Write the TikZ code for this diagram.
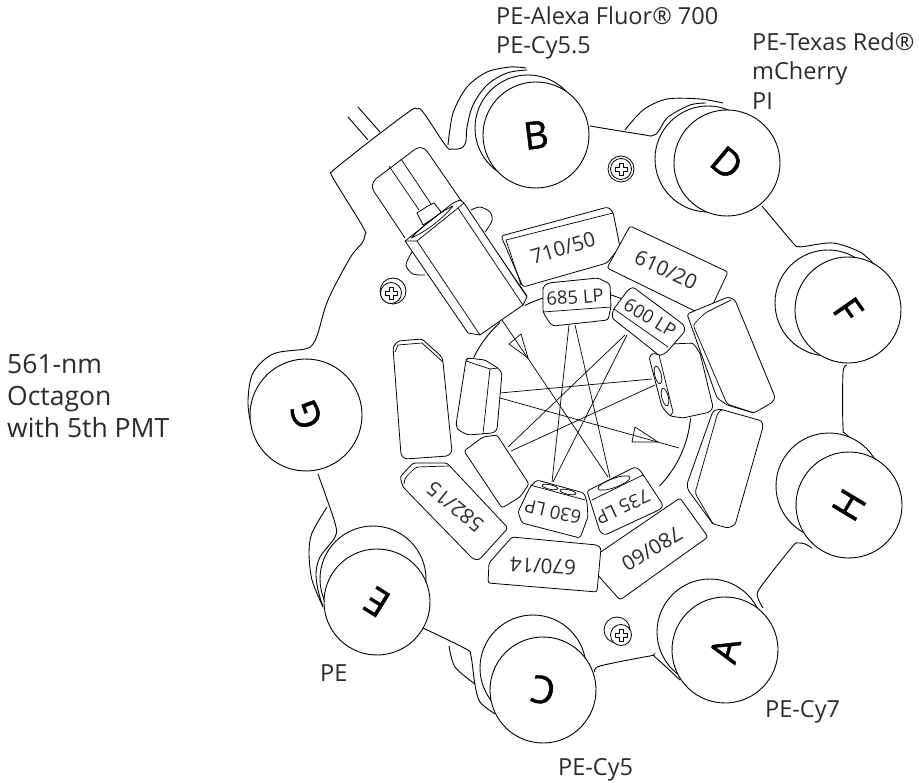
\documentclass[tikz,border=0pt]{standalone}
\usepackage{fontspec}
\setmainfont{Open Sans}
\newfontfamily\detfont[FakeBold=1.2]{Open Sans}
\usepackage{xcolor}
\usetikzlibrary{shapes.geometric,positioning,calc}
\definecolor{inkgray}{HTML}{2B2B2B}

% one mounting screw: outer ring, inner ring, cross
\newcommand{\screwhead}[4]{
  \draw[part] (#1,#2) circle (13);
  \draw[part] (#3,#4) circle (10.5);
  \draw[thinpart, shift={(#3,#4)}] (-2,-6) -- (2,-6) -- (2,-2) -- (6,-2) -- (6,2) -- (2,2) -- (2,6) -- (-2,6) -- (-2,2) -- (-6,2) -- (-6,-2) -- (-2,-2) -- cycle;
}

\begin{document}
\begin{tikzpicture}[x=1pt, y=-1pt,
    part/.style={draw=black, line width=0.8pt, fill=white, line join=round},
    thinpart/.style={draw=black, line width=0.7pt, line join=round},
    holder/.style={draw=black, line width=0.9pt},
    blockpart/.style={part, rounded corners=2.5pt},
    pmtback/.style={circle, draw=black, line width=0.9pt, fill=white, minimum size=106pt, inner sep=0pt},
    pmt/.style={pmtback, font=\detfont\fontsize{38}{38}\selectfont, text=black},
    filterlabel/.style={font=\fontsize{20.5}{20.5}\selectfont, text=inkgray, inner sep=0pt},
    splitlabel/.style={font=\fontsize{18.5}{18.5}\selectfont, text=inkgray, inner sep=0pt},
    dyelabel/.style={font=\fontsize{23.5}{29.5}\selectfont, text=inkgray, align=left, inner sep=0pt, anchor=north west},
    beam/.style={draw=black, line width=0.7pt},
    beamtip/.style={draw=black, line width=0.7pt}]
  \useasboundingbox (0,0) rectangle (919,783);

  % holder outline
  \draw[holder] plot[smooth, tension=.55] coordinates {(250,420) (248,400) (253,373) (273,354) (305,349) (313,344) (318,333) (328,300) (350,258) (362,243) (365,235) (363,227) (333,178) (332,172) (336,168) (370,141) (410,111) (417,109) (423,112) (446,146) (452,149) (458,149) (463,147) (466,141) (467,127) (473,105) (487,85) (507,73) (527,70)};
  \draw[holder] plot[smooth] coordinates {(448,145) (453,113) (467,87) (487,72) (510,67) (526,68)};
  \draw[holder] plot[smooth, tension=.5] coordinates {(590,126) (620,131) (645,135) (651,136) (656,134) (660,129) (668,117) (690,105) (706,103)};
  \draw[holder] plot[smooth] coordinates {(625,130) (643,110) (667,99) (700,99) (723,103)};
  \draw[holder] plot[smooth, tension=.5] coordinates {(762,206) (793,243) (798,246.5) (804,246.5) (833,243) (860,252) (875,265)};
  \draw[holder] plot[smooth, tension=.5] coordinates {(847,365) (843,373) (843,427) (847,435) (880,463)};
  \draw[holder] plot[smooth, tension=.5] coordinates {(812,548) (805,544) (798,543) (792,547) (760,588) (758,598) (763,608)};
  \draw[holder] plot[smooth, tension=.5] coordinates {(595,672) (600,666) (650,656) (655,657) (680,680)};
  \draw[holder] plot[smooth, tension=.5] coordinates {(423,628) (466,649) (471,656) (475,685) (480,702) (495,714)};
  \draw[holder] plot[smooth] coordinates {(449,646) (455,667) (475,684)};
  \draw[holder] plot[smooth, tension=.5] coordinates {(318,474) (335,523) (335,537) (320,557) (316,573) (318,590) (323,607)};
  \draw[holder] plot[smooth] coordinates {(327,507) (312,533) (309,553) (312,580) (323,607)};

  % cable
  \draw[holder] (348,117) -- (368,140);
  \draw[holder] (358,107) -- (380,132);

  % back of the detectors
  \node[pmtback] (backB) at (528,128) {};
  \node[pmtback] (backD) at (708,159) {};
  \node[pmtback] (backF) at (828,303) {};
  \node[pmtback] (backH) at (829,486) {};
  \node[pmtback] (backA) at (710,632) {};
  \node[pmtback] (backC) at (533,668) {};
  \node[pmtback] (backE) at (373,579) {};

  % detectors
  \node[pmt, rotate=7] (detB) at (536,135) {B};
  \node[pmt, rotate=-40] (detD) at (727,163) {D};
  \node[pmt, rotate=-55] (detF) at (848,310) {F};
  \node[pmt, rotate=59] (detH) at (849,505) {H};
  \node[pmt, rotate=75] (detA) at (725,650) {A};
  \node[pmt, rotate=170] (detC) at (543,690) {C};
  \node[pmt, rotate=148] (detE) at (377,602) {E};
  \node[pmt, rotate=110, minimum size=112pt] (detG) at (306,415) {G};

  % screws
  \screwhead{621}{169}{621}{169}
  \screwhead{393}{291}{391}{293}
  \screwhead{617}{630}{621}{635}

  % ring
  \draw[holder] (577,408) ++(206:115) arc (206:228:115);
  \draw[holder] (577,408) ++(243:115) arc (243:256:115);
  \draw[holder] (577,408) ++(286:118) arc (286:294:118);
  \draw[holder] (577,408) ++(5:114) arc (5:44:112);

  % beams
  \draw[beam] (502,320) -- (608,477);
  \draw[beam] (500,398) -- (679,448);
  \draw[beam] (500,393) -- (652,379);
  \draw[beam] (508,447) -- (625,335);
  \draw[beam] (511,451) -- (655,385);
  \draw[beam] (552,482) -- (569,325);
  \draw[beam] (553,482) -- (627,335);
  \draw[beam] (610,478) -- (575,325);
  \draw[beamtip] (528,358) -- (509,344) -- (521,334) -- cycle;
  \draw[beamtip] (658,442) -- (632,442) -- (635,427) -- cycle;

  % lobes behind the mount
  \draw[part] plot[smooth] coordinates {(471,210) (480,207) (490,212) (492,221) (485,232)};
  \draw[part] plot[smooth] coordinates {(412,252) (406,265) (413,274) (425,275)};

  % mount with tube and prism
  \draw[part, rounded corners=9pt] (405,238) -- (369,184) -- (422,144) -- (527,296);
  \draw[thinpart] (389,166) -- (419,210);
  \draw[thinpart] (401,159) -- (431,204);
  \draw[part] (417,213) -- (428,206) -- (434,203) -- (442,213) -- (423,225) -- cycle;
  \draw[part] (405,241) -- (453,203) -- (460,200) -- (464,203) -- (527,297) -- (523,305) -- (480,335) -- (468,333) -- cycle;
  \draw[thinpart] (405,241) -- (417,241) -- (458,208) -- (464,203);
  \draw[thinpart] (417,241) -- (480,335);
  \draw[thinpart] (458,208) -- (523,305);
  \draw[thinpart] (411,238) .. controls (425,224) and (440,212) .. (453,206) .. controls (445,216) and (428,231) .. (411,238);

  % blank blocks
  \draw[blockpart] (393,347) -- (398,341) -- (422,339) -- (442,357) -- (443,362) -- (452,452) -- (448,456) -- (405,459) -- (401,455) -- cycle;
  \draw[thinpart] (395,352) -- (398,345) -- (422,343) -- (443,362);
  \draw[blockpart] (464,451) -- (483,437) -- (497,435) -- (529,484) -- (520,497) -- (502,508) -- cycle;
  \draw[blockpart] (466,360) -- (468,358) -- (485,360) -- (498,368) -- (502,373) -- (497,430) -- (493,433) -- (468,435) -- (458,430) -- (456,425) -- cycle;
  \draw[thinpart] (466,361) -- (490,369) -- (483,434);
  \draw[thinpart] (490,369) -- (498,368);

  % mirror block with the two windows
  \draw[blockpart] (672,344) -- (693,343) -- (700,353) -- (713,407) -- (710,412) -- (683,418) -- (670,416) -- (662,407) -- (649,357) -- (653,353) -- (659,355) -- cycle;
  \draw[thinpart] (659,355) -- (673,412) -- (670,416);
  \node[ellipse, draw=black, line width=0.7pt, minimum width=6.5pt, minimum height=18pt, inner sep=0pt, rotate=14] (windowtop) at (658,375) {};
  \node[ellipse, draw=black, line width=0.7pt, minimum width=6.5pt, minimum height=18pt, inner sep=0pt, rotate=14] (windowlow) at (665,397) {};

  % bandpass filters
  \draw[blockpart] (501,236) -- (608,207) -- (613,212) -- (620,247) -- (607,263) -- (523,287) -- cycle;
  \draw[thinpart] (506,240) -- (613,213);
  \draw[thinpart] (506,240) -- (521,285);
  \draw[blockpart] (630,226) -- (728,272) -- (707,317) -- (607,268) -- cycle;
  \draw[blockpart] (687,314) -- (728,297) -- (735,300) -- (775,397) -- (773,402) -- (754,413) -- (727,405) -- (717,398) -- cycle;
  \draw[thinpart, rounded corners=3pt] (731,300) -- (705,313) -- (693,325) -- (727,404) -- (754,413);
  \draw[blockpart] (713,411) -- (720,409) -- (762,421) -- (763,427) -- (735,525) -- (728,528) -- (713,524) -- (688,490) -- (687,484) -- cycle;
  \draw[thinpart, rounded corners=3pt] (722,410) -- (718,412) -- (695,493) -- (713,524);
  \draw[blockpart] (680,498) -- (708,537) -- (620,600) -- (586,562) -- cycle;
  \draw[blockpart] (512,537) -- (597,545) -- (601,548) -- (597,592) -- (488,583) -- (489,563) -- cycle;
  \draw[blockpart] (400,477) -- (413,463) -- (447,463) -- (508,528) -- (479,560) -- (473,559) -- (403,487) -- cycle;
  \draw[thinpart, rounded corners=3pt] (404,484) -- (405,478) -- (416,467) -- (449,466);

  % dichroic mirrors
  \draw[blockpart] (543,287) -- (548,283) -- (598,278) -- (610,284) -- (611,307) -- (608,320) -- (553,326) -- (549,322) -- (543,312) -- cycle;
  \draw[thinpart] (543,312) -- (611,307);
  \draw[blockpart] (633,287) -- (684,325) -- (685,331) -- (667,352) -- (660,356) -- (612,318) -- (613,310) -- (628,290) -- cycle;
  \draw[thinpart] (614,309) -- (668,347);
  \draw[blockpart] (587,491) -- (635,467) -- (640,470) -- (663,505) -- (661,509) -- (605,535) -- (600,532) -- cycle;
  \draw[thinpart] (592,500) -- (643,475);
  \node[ellipse, draw=black, line width=0.7pt, minimum width=34pt, minimum height=9pt, inner sep=0pt, rotate=20] (windowlongpass) at (614,483) {};
  \draw[blockpart] (537,480) -- (584,493) -- (587,502) -- (588,517) -- (580,538) -- (522,523) -- (518,512) -- (530,487) -- cycle;
  \draw[thinpart] (530,485) -- (585,500);
  \node[ellipse, draw=black, line width=0.7pt, minimum width=16pt, minimum height=4.5pt, inner sep=0pt, rotate=-12] (windowleft) at (550,487) {};
  \node[ellipse, draw=black, line width=0.7pt, minimum width=16pt, minimum height=4.5pt, inner sep=0pt, rotate=-12] (windowright) at (568,492) {};

  % filter labels
  \node[filterlabel, rotate=16.5] (lab710) at (563,248) {710/50};
  \node[filterlabel, rotate=-25] (lab610) at (666,270) {610/20};
  \node[filterlabel, rotate=177] (lab670) at (543,566) {670/14};
  \node[filterlabel, rotate=211] (lab780) at (652,549) {780/60};
  \node[filterlabel, rotate=141] (lab582) at (455,507) {582/15};
  \node[splitlabel, rotate=3.5] (lab685) at (575,297) {685 LP};
  \node[splitlabel, rotate=-31] (lab600) at (650,318) {600 LP};
  \node[splitlabel, rotate=205] (lab735) at (623,507) {735 LP};
  \node[splitlabel, rotate=167] (lab630) at (553,512) {630 LP};

  % dye labels
  \node[dyelabel] (dyesB) at (496,6) {PE-Alexa Fluor® 700\\PE-Cy5.5};
  \node[dyelabel] (dyesD) at (752,32) {PE-Texas Red®\\mCherry\\PI};
  \node[dyelabel] (dyesE) at (320,665) {PE};
  \node[dyelabel] (dyesA) at (765,700) {PE-Cy7};
  \node[dyelabel] (dyesC) at (558,758) {PE-Cy5};
  \node[dyelabel, font=\fontsize{26.5}{32}\selectfont] (title) at (7,354) {561-nm\\Octagon\\with 5th PMT};
\end{tikzpicture}
\end{document}
